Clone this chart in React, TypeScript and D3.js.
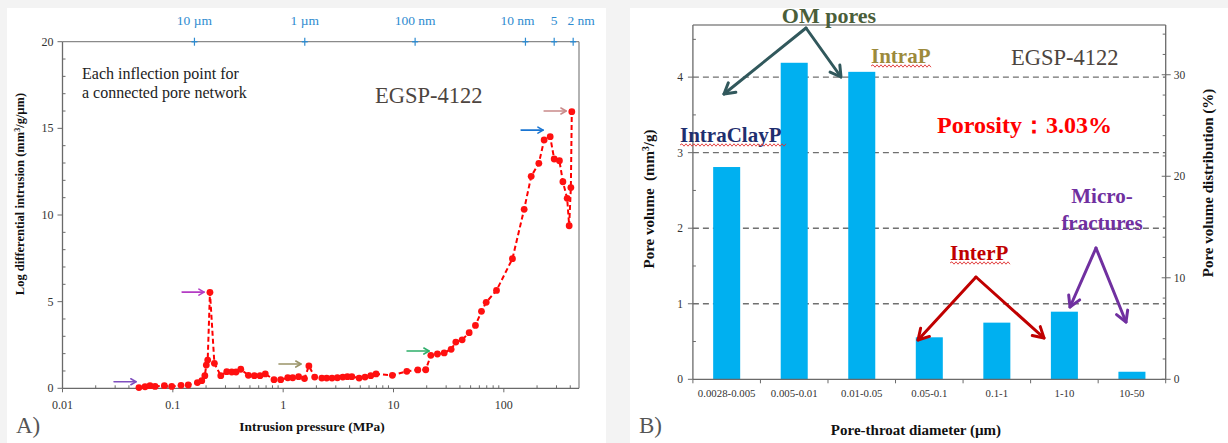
import * as d3 from 'd3';

// Panel A: mercury intrusion curve
const pressure = [
  0.0493, 0.056, 0.0621, 0.069, 0.0838, 0.0977, 0.1186, 0.138, 0.167, 0.183,
  0.195, 0.201, 0.207, 0.217, 0.238, 0.272, 0.308, 0.342, 0.374, 0.413,
  0.484, 0.548, 0.617, 0.689, 0.826, 0.95, 1.1, 1.22, 1.38, 1.56,
  1.71, 1.93, 2.24, 2.48, 2.77, 3.1, 3.47, 3.82, 4.19, 4.88,
  5.52, 6.22, 6.95, 9.77, 13.2, 16.6, 19.6, 21.8, 25.0, 28.8,
  33.3, 36.7, 41.9, 48.5, 55.3, 62.7, 69.2, 85.8, 119.7, 152.8,
  177, 207.6, 231.9, 263, 286, 319, 343, 375, 391, 405, 413,
];
const intrusion = [
  0.04, 0.09, 0.15, 0.11, 0.15, 0.11, 0.17, 0.19, 0.33, 0.44,
  0.73, 1.34, 1.63, 5.54, 1.44, 0.73, 0.96, 0.94, 0.94, 1.1,
  0.75, 0.73, 0.73, 0.83, 0.5, 0.5, 0.61, 0.61, 0.67, 0.56,
  1.29, 0.65, 0.59, 0.59, 0.59, 0.61, 0.65, 0.67, 0.67, 0.59,
  0.65, 0.73, 0.83, 0.75, 0.98, 1.06, 1.07, 1.9, 1.98, 2.04,
  2.25, 2.67, 2.8, 3.21, 3.63, 4.44, 4.96, 5.65, 7.48, 10.33,
  12.23, 12.98, 14.33, 14.52, 13.23, 13.13, 11.92, 10.96, 9.38, 11.58, 15.96,
];
const poreSizeLabels = ['10 µm', '1 µm', '100 nm', '10 nm', '5', '2 nm'];
const poreSizePressures = [0.157, 1.57, 15.7, 157, 286, 425];
const yTicksA = [0, 5, 10, 15, 20];
const xTicksA = [0.01, 0.1, 1, 10, 100];

// inflection arrows (tip pressure, value, colour)
const arrowPressures = [0.0464, 0.192, 1.45, 21.0, 227, 367];
const arrowValues = [0.38, 5.55, 1.4, 2.15, 14.9, 16.0];
const arrowColors = ['#7f4fbf', '#b43cc4', '#9a9468', '#2eae6a', '#1a75d2', '#c98a8a'];

// Panel B: pore volume by pore-throat class
const categories = ['0.0028-0.005', '0.005-0.01', '0.01-0.05', '0.05-0.1', '0.1-1', '1-10', '10-50'];
const poreVolume = [2.81, 4.19, 4.07, 0.556, 0.75, 0.895, 0.1];
const yTicksB = [0, 1, 2, 3, 4];
const yTicksBRight = [0, 10, 20, 30];

const serif = '"Liberation Serif", "DejaVu Serif", serif';

function Arrow({ x1, y1, x2, y2, color, width, head }: any) {
  const a = Math.atan2(y2 - y1, x2 - x1);
  const s = Math.PI / 6;
  const h1 = [x2 - head * Math.cos(a - s), y2 - head * Math.sin(a - s)];
  const h2 = [x2 - head * Math.cos(a + s), y2 - head * Math.sin(a + s)];
  return (
    <g stroke={color} strokeWidth={width} fill="none" strokeLinecap="round" strokeLinejoin="round">
      <line x1={x1} y1={y1} x2={x2} y2={y2} />
      <polyline points={`${h1[0]},${h1[1]} ${x2},${y2} ${h2[0]},${h2[1]}`} />
    </g>
  );
}

function Wavy({ x1, x2, y }: any) {
  let d = `M${x1},${y}`;
  let up = true;
  for (let x = x1 + 2; x <= x2; x += 2) {
    d += ` L${x},${y + (up ? -1.2 : 1.2)}`;
    up = !up;
  }
  return <path d={d} stroke="#e03030" strokeWidth={0.9} fill="none" />;
}

function PanelA() {
  const left = 62.5, right = 579, top = 41.7, bottom = 388.3;
  const x = d3.scaleLog().domain([0.01, 480]).range([left, right]);
  const y = d3.scaleLinear().domain([0, 20]).range([bottom, top]);
  const data = pressure.map((p, i) => [p, intrusion[i]] as [number, number]);
  const line = d3.line<[number, number]>().x((d) => x(d[0])).y((d) => y(d[1]));
  const minorX = x.ticks().filter((t) => !xTicksA.includes(+t.toPrecision(3)) && t <= 480);
  const minorY = d3.range(1, 20).filter((v) => v % 5 !== 0);
  const axisColor = '#6a6a6a';
  const last = poreSizeLabels.length - 1;

  return (
    <g fontFamily={serif}>
      <rect x={7} y={8} width={599} height={435} fill="#fff" />
      {/* frame */}
      <line x1={left} x2={right} y1={top} y2={top} stroke="#8a8a8a" strokeWidth={1.3} />
      <line x1={right} x2={right} y1={top} y2={bottom} stroke="#8a8a8a" strokeWidth={1.3} />
      <line x1={left} x2={left} y1={top} y2={bottom} stroke={axisColor} strokeWidth={1.3} />
      <line x1={left} x2={right} y1={bottom} y2={bottom} stroke={axisColor} strokeWidth={1.3} />

      {/* y ticks */}
      {yTicksA.map((t) => (
        <g key={'ya' + t}>
          <line x1={left - 5} x2={left} y1={y(t)} y2={y(t)} stroke={axisColor} />
          <text x={left - 9} y={y(t) + 4} fontSize={12} textAnchor="end" fill="#333">{t}</text>
        </g>
      ))}
      {minorY.map((t) => (
        <line key={'yma' + t} x1={left} x2={left + 3} y1={y(t)} y2={y(t)} stroke={axisColor} />
      ))}

      {/* x ticks */}
      {xTicksA.map((t) => (
        <g key={'xa' + t}>
          <line x1={x(t)} x2={x(t)} y1={bottom} y2={bottom + 4} stroke={axisColor} />
          <text x={x(t)} y={bottom + 21} fontSize={12} textAnchor="middle" fill="#333">{t}</text>
        </g>
      ))}
      {minorX.map((t, i) => (
        <line key={'xma' + i} x1={x(t)} x2={x(t)} y1={bottom} y2={bottom - 3} stroke={axisColor} />
      ))}

      {/* top pore-size axis */}
      {poreSizePressures.map((p, i) => (
        <g key={'ps' + i}>
          <line x1={x(p)} x2={x(p)} y1={top - 4} y2={top + 4} stroke="#2e8bd0" strokeWidth={1.2} />
          <line x1={x(p) - 3} x2={x(p) + 3} y1={top} y2={top} stroke="#2e8bd0" strokeWidth={1.4} />
          <text x={x(p)} dx={i === last ? 8 : i === last - 2 ? -8 : 0} y={25} fontSize={13.5}
            textAnchor="middle" fill="#2e8bd0">{poreSizeLabels[i]}</text>
        </g>
      ))}

      {/* curve */}
      <path d={line(data) || ''} fill="none" stroke="#ff0000" strokeWidth={2} strokeDasharray="5,3" />
      {data.map((d, i) => (
        <circle key={'pt' + i} cx={x(d[0])} cy={y(d[1])} r={3.4} fill="#ff1010" />
      ))}

      {arrowPressures.map((p, i) => (
        <Arrow key={'ar' + i} x1={x(p) - 22} y1={y(arrowValues[i])} x2={x(p)} y2={y(arrowValues[i])}
          color={arrowColors[i]} width={1.6} head={6} />
      ))}

      <text x={82} y={79} fontSize={16} fill="#222">Each inflection point for</text>
      <text x={82} y={98} fontSize={16} fill="#222">a connected pore network</text>
      <text x={375} y={103} fontSize={22.5} fill="#4d4540">EGSP-4122</text>

      <text x={312} y={431} fontSize={13.4} fontWeight="bold" textAnchor="middle" fill="#111">
        Intrusion pressure (MPa)
      </text>
      <text transform="translate(24,194) rotate(-90)" fontSize={12.5}
        fontWeight="bold" textAnchor="middle" fill="#111">
        Log differential intrusion (mm<tspan dy={-4} fontSize={8}>3</tspan><tspan dy={4}>/g/µm)</tspan>
      </text>
      <text x={16} y={433} fontSize={23} fill="#555">A)</text>
    </g>
  );
}

function PanelB() {
  const left = 692.9, right = 1165.7, top = 25, bottom = 379.3;
  const x = d3.scaleBand().domain(categories).range([left, right]).paddingInner(0.6).paddingOuter(0.3);
  const y = d3.scaleLinear().domain([0, 4.69]).range([bottom, top]);
  const yr = d3.scaleLinear().domain([0, 34.9]).range([bottom, top]);
  const step = x.step();
  const bounds = d3.range(categories.length + 1).map((i) => left + i * step);
  const minorY = d3.range(0.5, 4.69, 1);
  const minorYr = d3.range(2, 35, 2).filter((v) => v % 10 !== 0);
  const axisColor = '#6a6a6a';

  return (
    <g fontFamily={serif}>
      <rect x={630} y={8} width={598} height={435} fill="#fff" />

      {/* dashed grid */}
      {yTicksB.filter((t) => t > 0).map((t) => (
        <line key={'g' + t} x1={left} x2={right} y1={y(t)} y2={y(t)} stroke="#707070" strokeWidth={1.4} strokeDasharray="6,4" />
      ))}

      {/* bars */}
      {categories.map((c, i) => (
        <rect key={c} x={x(c)} y={y(poreVolume[i])} width={x.bandwidth()} height={bottom - y(poreVolume[i])} fill="#00b0f0" />
      ))}

      {/* frame */}
      <line x1={left} x2={right} y1={top} y2={top} stroke="#8a8a8a" strokeWidth={1.3} />
      <line x1={right} x2={right} y1={top} y2={bottom} stroke={axisColor} strokeWidth={1.3} />
      <line x1={left} x2={left} y1={top} y2={bottom} stroke={axisColor} strokeWidth={1.3} />
      <line x1={left} x2={right} y1={bottom} y2={bottom} stroke={axisColor} strokeWidth={1.3} />

      {yTicksB.map((t) => (
        <g key={'yb' + t}>
          <line x1={left - 5} x2={left} y1={y(t)} y2={y(t)} stroke={axisColor} />
          <text x={left - 10} y={y(t) + 4} fontSize={11.5} textAnchor="end" fill="#333">{t}</text>
        </g>
      ))}
      {minorY.map((t) => (
        <line key={'ymb' + t} x1={left} x2={left + 3} y1={y(t)} y2={y(t)} stroke={axisColor} />
      ))}
      {yTicksBRight.map((t) => (
        <g key={'yr' + t}>
          <line x1={right - 4} x2={right + 5} y1={yr(t)} y2={yr(t)} stroke={axisColor} />
          <text x={right + 8} y={yr(t) + 4} fontSize={11.5} fill="#333">{t}</text>
        </g>
      ))}
      {minorYr.map((t) => (
        <line key={'ymr' + t} x1={right - 3} x2={right} y1={yr(t)} y2={yr(t)} stroke={axisColor} />
      ))}
      {bounds.map((b, i) => (
        <line key={'xb' + i} x1={b} x2={b} y1={bottom} y2={bottom + 4} stroke={axisColor} />
      ))}
      {categories.map((c) => (
        <text key={'xl' + c} x={(x(c) || 0) + x.bandwidth() / 2} y={397} fontSize={10.8} textAnchor="middle" fill="#333">{c}</text>
      ))}

      {/* annotations */}
      <Arrow x1={806} y1={28} x2={724} y2={94} color="#31585c" width={3} head={12} />
      <Arrow x1={806} y1={28} x2={841} y2={77} color="#31585c" width={3} head={12} />
      <text x={829} y={23} fontSize={22} fontWeight="bold" textAnchor="middle" fill="#4a5e3a">OM pores</text>

      <text x={871} y={63} fontSize={21} fontWeight="bold" fill="#9c8a3c">IntraP</text>
      <Wavy x1={871} x2={932} y={66} />
      <text x={1011} y={65} fontSize={22.5} fill="#4d4540">EGSP-4122</text>

      <text x={680} y={142} fontSize={21} fontWeight="bold" fill="#1f2f6f">IntraClayP</text>
      <Wavy x1={680} x2={786} y={145} />

      <text x={937} y={133} fontSize={24} fontWeight="bold" fill="#ff0000">Porosity：3.03%</text>

      <text x={950} y={260} fontSize={21} fontWeight="bold" fill="#c00000">InterP</text>
      <Wavy x1={950} x2={1011} y={263} />
      <Arrow x1={976} y1={277} x2={918} y2={340} color="#c00000" width={3} head={12} />
      <Arrow x1={976} y1={277} x2={1044} y2={338} color="#c00000" width={3} head={12} />

      <text x={1102} y={203} fontSize={21} fontWeight="bold" textAnchor="middle" fill="#7030a0">Micro-</text>
      <text x={1102} y={230} fontSize={21} fontWeight="bold" textAnchor="middle" fill="#7030a0">fractures</text>
      <Arrow x1={1096} y1={248} x2={1070} y2={307} color="#7030a0" width={3} head={12} />
      <Arrow x1={1096} y1={248} x2={1126} y2={322} color="#7030a0" width={3} head={12} />

      <text x={916} y={435} fontSize={15} fontWeight="bold" textAnchor="middle" fill="#111">
        Pore-throat diameter (µm)
      </text>
      <text transform="translate(654,199) rotate(-90)" fontSize={15} fontWeight="bold" textAnchor="middle" fill="#111"
        style={{ whiteSpace: 'pre' }}>
        {'Pore volume  (mm'}<tspan dy={-5} fontSize={9.5}>3</tspan><tspan dy={5}>/g)</tspan>
      </text>
      <text transform="translate(1213,183) rotate(-90)" fontSize={15} fontWeight="bold" textAnchor="middle" fill="#111">
        Pore volume distribution (%)
      </text>
      <text x={639} y={433} fontSize={23} fill="#555">B)</text>
    </g>
  );
}

export default function App() {
  return (
    <svg width={1228} height={443} style={{ position: 'absolute', left: 0, top: 0 }}>
      <rect width={1228} height={443} fill="#f3f3f3" />
      <PanelA />
      <PanelB />
    </svg>
  );
}
